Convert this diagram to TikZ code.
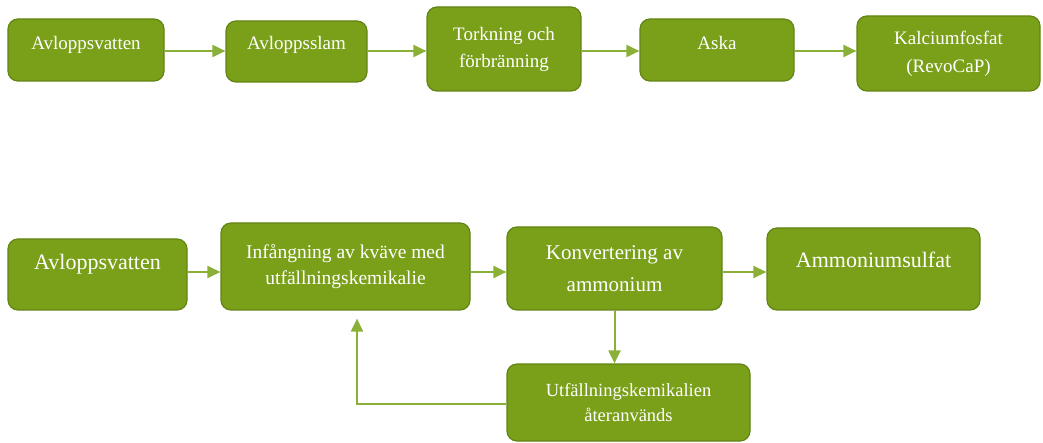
\documentclass[tikz,border=0pt]{standalone}
\usepackage{fontspec}
\setmainfont{Liberation Serif}
\usetikzlibrary{arrows.meta}
\definecolor{boxgreen}{RGB}{122,160,26}
\definecolor{boxedge}{RGB}{98,132,20}
\definecolor{arrowgreen}{RGB}{138,176,56}

\tikzset{
	box/.style={draw=boxedge, fill=boxgreen, line width=1.2pt, rounded corners=10pt, text=white, align=center, inner sep=0pt},
	flow/.style={draw=arrowgreen, line width=2pt, -{Triangle[length=13pt,width=12pt]}},
}

\begin{document}
\begin{tikzpicture}[x=1pt,y=-1pt]
	\useasboundingbox (0,0) rectangle (1043,443);

	% upper chain
	\node[box, minimum width=156pt, minimum height=62pt, text depth=14pt, font=\fontsize{19}{27}\selectfont] (vattenA) at (86,50) {Avloppsvatten};
	\node[box, minimum width=141pt, minimum height=61pt, text depth=17pt, font=\fontsize{19}{27}\selectfont] (slam) at (296.5,51.5) {Avloppsslam};
	\node[box, minimum width=154pt, minimum height=84pt, font=\fontsize{19}{27}\selectfont] (torkning) at (504,49) {Torkning och\\förbränning};
	\node[box, minimum width=154pt, minimum height=62pt, text depth=15pt, font=\fontsize{19}{27}\selectfont] (aska) at (717,50) {Aska};
	\node[box, minimum width=183pt, minimum height=75pt, font=\fontsize{19}{28}\selectfont] (kalcium) at (948.5,53.5) {Kalciumfosfat\\(RevoCaP)};

	\draw[flow] (vattenA.east |- 0,51) -- (slam.west |- 0,51);
	\draw[flow] (slam.east |- 0,51) -- (torkning.west |- 0,51);
	\draw[flow] (torkning.east |- 0,51) -- (aska.west |- 0,51);
	\draw[flow] (aska.east |- 0,51) -- (kalcium.west |- 0,51);

	% lower chain
	\node[box, minimum width=179pt, minimum height=71pt, text depth=26pt, font=\fontsize{22}{30}\selectfont] (vattenB) at (97.5,274.5) {Avloppsvatten};
	\node[box, minimum width=249pt, minimum height=87pt, font=\fontsize{19.5}{26}\selectfont] (infang) at (345.5,266.5) {Infångning av kväve med\\utfällningskemikalie};
	\node[box, minimum width=215pt, minimum height=83pt, font=\fontsize{21}{32}\selectfont] (konv) at (614.5,268.5) {Konvertering av\\ammonium};
	\node[box, minimum width=213pt, minimum height=82pt, text depth=19pt, font=\fontsize{22}{30}\selectfont] (sulfat) at (873.5,269) {Ammoniumsulfat};
	\node[box, minimum width=243pt, minimum height=77pt, font=\fontsize{18.5}{25}\selectfont] (reuse) at (628.5,402.5) {Utfällningskemikalien\\återanvänds};

	\draw[flow] (vattenB.east |- 0,272) -- (infang.west |- 0,272);
	\draw[flow] (infang.east |- 0,272) -- (konv.west |- 0,272);
	\draw[flow] (konv.east |- 0,272) -- (sulfat.west |- 0,272);
	\draw[flow] (konv.south) -- (konv.south |- reuse.north);
	\draw[flow] (reuse.west |- 0,404) -| ([yshift=-8pt]infang.south -| 357,0);
\end{tikzpicture}
\end{document}
